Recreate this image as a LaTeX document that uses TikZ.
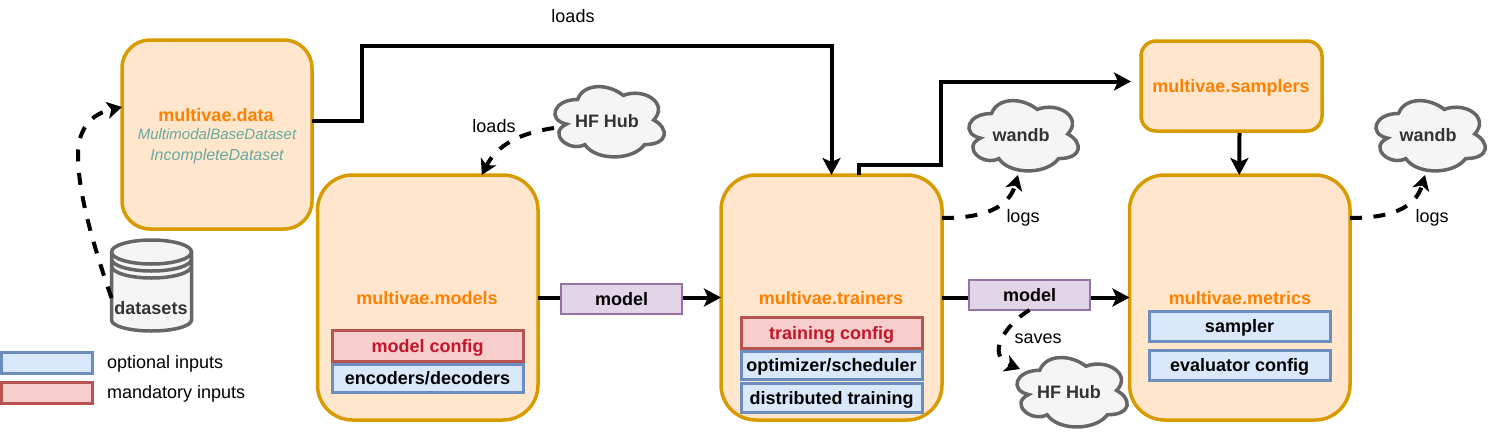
\documentclass[tikz,border=0pt]{standalone}
\usepackage{fontspec}
\setmainfont{Liberation Sans}
\usetikzlibrary{arrows.meta}
\definecolor{modfill}{HTML}{FFE6CC}
\definecolor{modline}{HTML}{D79B00}
\definecolor{optfill}{HTML}{DAE8FC}
\definecolor{optline}{HTML}{6C8EBF}
\definecolor{manfill}{HTML}{F8CECC}
\definecolor{manline}{HTML}{B85450}
\definecolor{purfill}{HTML}{E1D5E7}
\definecolor{purline}{HTML}{9673A6}
\definecolor{greyfill}{HTML}{F5F5F5}
\definecolor{greyline}{HTML}{666666}
\definecolor{greytext}{HTML}{333333}
\definecolor{titleor}{HTML}{FF8000}
\definecolor{teal1}{HTML}{67AB9F}
\definecolor{crimson1}{HTML}{C4162A}
\newcommand\fsz[1]{\fontsize{#1}{#1}\selectfont}
\newcommand\boxnode[6]{%
  \node[#1,outer sep=0pt,inner sep=0pt,minimum width={(#4-#2)*1pt},minimum height={(#5-#3)*1pt}] (#6) at ({(#2+#4)/2},{(#3+#5)/2}) {};}
\newcommand\inbox[7]{%
  \node[#1,outer sep=0pt,inner sep=0pt,text height=13pt,text depth=0pt,minimum width={(#5-#3)*1pt},minimum height={(#6-#4)*1pt}] (#2) at ({(#3+#5)/2},{(#4+#6)/2}) {#7};}
\newcommand\cloudnode[5]{%
  \pgfmathsetmacro\cw{#4-#2}\pgfmathsetmacro\ch{#5-#3}%
  \begin{scope}[shift={(#2,#3)},x=\cw pt,y=-\ch pt]
  \draw[cloudline] (0.25,0.25) .. controls (0.05,0.25) and (0,0.5) .. (0.16,0.55)
    .. controls (0,0.66) and (0.18,0.9) .. (0.31,0.8)
    .. controls (0.4,1) and (0.7,1) .. (0.8,0.8)
    .. controls (1,0.8) and (1,0.6) .. (0.875,0.5)
    .. controls (1,0.3) and (0.8,0.1) .. (0.625,0.2)
    .. controls (0.5,0.05) and (0.3,0.05) .. (0.25,0.25) -- cycle;
  \end{scope}
  \node[inner sep=0pt,outer sep=0pt,minimum width={(#4-#2)*1pt},minimum height={(#5-#3)*1pt}] (#1) at ({(#2+#4)/2},{(#3+#5)/2}) {};}
\tikzset{
  modbox/.style={draw=modline,fill=modfill,line width=3.5pt,rounded corners=35pt},
  smallmod/.style={draw=modline,fill=modfill,line width=3.5pt,rounded corners=#1},
  optbox/.style={draw=optline,fill=optfill,line width=3pt,font=\fsz{18}\bfseries,text=black},
  manbox/.style={draw=manline,fill=manfill,line width=3pt,font=\fsz{18}\bfseries,text=crimson1},
  purbox/.style={draw=purline,fill=purfill,line width=1.2pt,font=\fsz{18}\bfseries,text=black},
  cloudline/.style={draw=greyline,fill=greyfill,line width=3.5pt},
  cloudtext/.style={inner sep=0pt,outer sep=0pt,anchor=base,font=\fsz{18}\bfseries,text=greytext},
  title/.style={inner sep=0pt,anchor=base,font=\fsz{18}\bfseries,text=titleor},
  ital/.style={inner sep=0pt,anchor=base,font=\fsz{15}\itshape,text=teal1},
  lbl/.style={inner sep=0pt,anchor=base,font=\fsz{18},text=black},
  solidarrow/.style={line width=4pt,-{Stealth[length=17pt,width=18pt,inset=4pt]}},
  dasharrow/.style={line width=4pt,dash pattern=on 12pt off 11.5pt,-{Stealth[length=15pt,width=17pt,inset=4pt]}},
}
\begin{document}
\begin{tikzpicture}[x=1pt,y=-1pt]
\useasboundingbox (0,0) rectangle (1491,434);
% modules
\boxnode{smallmod=28pt}{122}{40}{312}{229}{data}
\boxnode{modbox}{317.5}{175}{538}{420}{models}
\boxnode{modbox}{721}{175}{942}{420}{trainers}
\boxnode{modbox}{1129.5}{175}{1350}{420}{metrics}
\boxnode{smallmod=15pt}{1141}{41}{1322}{131}{samplers}
% titles
\node[title] (tdata) at (216,121) {multivae.data};
\node[ital] (idata1) at (217,139) {MultimodalBaseDataset};
\node[ital,font=\fsz{16}\itshape] (idata2) at (217,160) {IncompleteDataset};
\node[title] (tmodels) at (427,304) {multivae.models};
\node[title] (ttrainers) at (831,304) {multivae.trainers};
\node[title] (tmetrics) at (1240,304) {multivae.metrics};
\node[title] (tsamplers) at (1231,92) {multivae.samplers};
% inputs
\inbox{manbox}{mconfig}{332}{330}{523}{361}{model config}
\inbox{optbox}{encdec}{332}{364}{523}{392}{encoders/decoders}
\inbox{manbox}{tconfig}{741}{317}{922}{348}{training config}
\inbox{optbox}{optim}{741}{351}{922}{379}{optimizer/scheduler}
\inbox{optbox}{dist}{741}{383}{922}{412}{distributed training}
\inbox{optbox}{sampler}{1149}{311}{1330}{341}{sampler}
\inbox{optbox}{evalc}{1149}{350}{1330}{380}{evaluator config}
% legend
\inbox{optbox}{legopt}{1}{352.5}{92}{373}{}
\inbox{manbox}{legman}{1}{382.5}{92}{403}{}
\node[lbl,anchor=base west] (tlegopt) at (107,368) {optional inputs};
\node[lbl,anchor=base west] (tlegman) at (107,398) {mandatory inputs};
% clouds
\cloudnode{hubtop}{547}{79}{669}{161}
\cloudnode{wandba}{961}{93}{1083}{175}
\cloudnode{wandbb}{1368}{93}{1490}{175}
\cloudnode{hubbot}{1009}{350}{1132}{431}
\node[cloudtext] (thubtop) at (607,127) {HF Hub};
\node[cloudtext] (twandba) at (1021,141) {wandb};
\node[cloudtext] (twandbb) at (1428,141) {wandb};
\node[cloudtext] (thubbot) at (1069,398) {HF Hub};
% datasets cylinder
\draw[cloudline] (111.5,252) -- (111.5,320) arc[start angle=180,end angle=360,x radius=40,y radius=-11] -- (191.5,252) arc[start angle=0,end angle=180,x radius=40,y radius=-12] -- cycle;
\draw[greyline,line width=3.5pt] (111.5,252) arc[start angle=180,end angle=360,x radius=40,y radius=-12]
  (111.5,259) arc[start angle=180,end angle=360,x radius=40,y radius=-12]
  (111.5,266) arc[start angle=180,end angle=360,x radius=40,y radius=-12];
\node[inner sep=0pt,outer sep=0pt,minimum width=80pt,minimum height=92pt] (ds) at (151.5,286) {};
\node[cloudtext] (tds) at (151,314) {datasets};
% connectors
\draw[solidarrow] ([yshift=13.5pt]data.east) -- ++(50,0) -- ++(0,-75) -| (trainers.north);
\draw[solidarrow] ([xshift=27.5pt]trainers.north) -- ++(0,-10) -- ++(82,0) |- ([xshift=-10pt,yshift=4.5pt]samplers.west);
\draw[solidarrow] ([xshift=8pt,yshift=-2pt]samplers.south) -- ([xshift=-0.5pt]metrics.north);
\draw[solidarrow] (models.east) -- (trainers.west);
\draw[solidarrow] (trainers.east) -- (metrics.west);
\inbox{purbox}{moda}{561}{284}{682}{314}{model}
\inbox{purbox}{modb}{969}{280}{1090}{310}{model}
\draw[dasharrow] ([yshift=-12pt]ds.west) .. controls (95,250) and (78,195) .. (78,155) .. controls (78,125) and (95,113) .. ([yshift=27.5pt]data.west);
\draw[dasharrow] ([xshift=7pt,yshift=-8pt]hubtop.west) .. controls (520,133) and (497,145) .. ([xshift=54pt]models.north);
\draw[dasharrow] ([yshift=79.5pt]trainers.east) .. controls (980,218) and (1008,210) .. ([xshift=-4pt]wandba.south);
\draw[dasharrow] ([yshift=79.5pt]metrics.east) .. controls (1387,218) and (1415,210) .. ([xshift=-4pt]wandbb.south);
\draw[dasharrow] (modb.south) .. controls (1005,325) and (985,355) .. ([xshift=-50.5pt,yshift=-19pt]hubbot.north);
% labels
\node[lbl] (lloadsa) at (573,22) {loads};
\node[lbl] (lloadsb) at (494,132) {loads};
\node[lbl] (llogsa) at (1023,222) {logs};
\node[lbl] (llogsb) at (1432,222) {logs};
\node[lbl] (lsaves) at (1038,343) {saves};
\end{tikzpicture}
\end{document}
